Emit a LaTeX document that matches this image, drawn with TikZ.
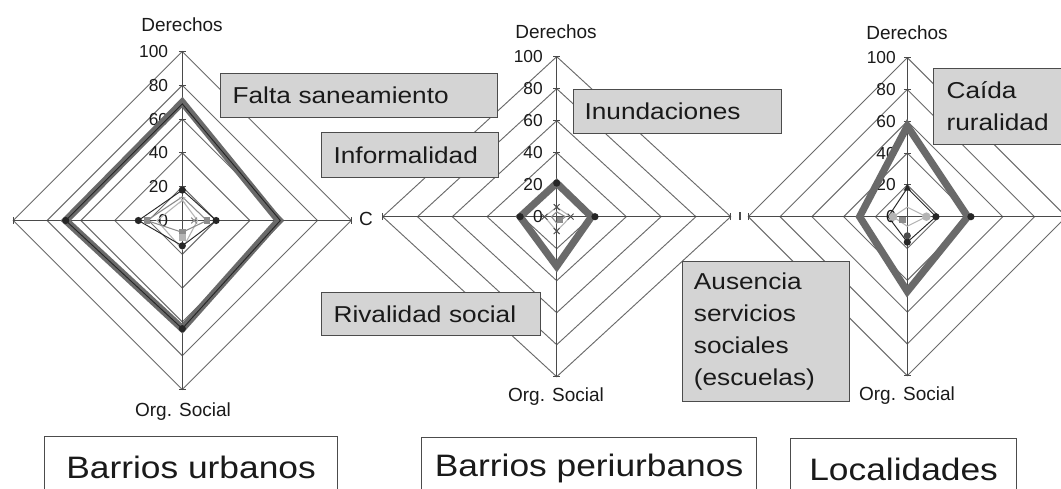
\documentclass[tikz,border=0pt]{standalone}
\usepackage{fontspec}
\setmainfont{Liberation Sans}[FakeStretch=1.14]
\newfontfamily\plainsans{Liberation Sans}
\definecolor{gridc}{HTML}{6A6A6A}
\definecolor{axisc}{HTML}{4A4A4A}
\definecolor{thickc}{HTML}{6A6A6A}
\definecolor{boxfill}{HTML}{D4D4D4}
\definecolor{boxline}{HTML}{4C4C4C}
\definecolor{txt}{HTML}{1A1A1A}
\definecolor{midser}{HTML}{8C8C8C}
\definecolor{lightser}{HTML}{B4B4B4}
\tikzset{
 gridline/.style={draw=gridc, line width=0.7pt},
 axisline/.style={draw=axisc, line width=0.85pt},
 thickser/.style={draw=thickc, line width=5.4pt, line join=miter},
 darkser/.style={draw=black!85, line width=0.7pt},
 midline/.style={draw=midser, line width=0.8pt},
 lightline/.style={draw=lightser, line width=0.8pt},
 numlbl/.style={font=\plainsans\fontsize{13pt}{14pt}\selectfont, text=txt, anchor=east, inner sep=0pt},
 axlbl/.style={font=\plainsans\fontsize{14.25pt}{15pt}\selectfont, text=txt, inner sep=0pt},
 notebox/.style={draw=boxline, fill=boxfill, line width=0.9pt, anchor=north west, align=left,
   inner xsep=9pt, inner ysep=0pt, text=txt, font=\fontsize{17.25pt}{24pt}\selectfont},
 titlebox/.style={draw=boxline, fill=white, line width=0.9pt, anchor=north west, align=center,
   inner sep=0pt, minimum height=46.5pt, text=txt, font=\fontsize{23.25pt}{26pt}\selectfont}
}
\newcommand\radargrid[2]{%
 \foreach \r in {20,40,60,80,100}{\draw[gridline] (0,\r)--(\r,0)--(0,-\r)--(-\r,0)--cycle;}
 \draw[axisline] (0,-100)--(0,100);
 \draw[axisline] (-100,0)--(100,0);
 \foreach \r in {0,20,40,60,80,100}{\draw[axisline] (0,\r) +(-2.6pt,0) -- +(2.6pt,0);
   \node[numlbl] (#1n\r) at ([xshift=-#2]0,\r) {\r};}
 \draw[axisline] (0,-100) +(-2.6pt,0) -- +(2.6pt,0);
 \draw[axisline] (-100,0) +(0,-2.6pt) -- +(0,2.6pt);
 \draw[axisline] (100,0) +(0,-2.6pt) -- +(0,2.6pt);
}
\newcommand\rdiamond[5]{\draw[#1] (0,#2)--(#3,0)--(0,-#4)--(-#5,0)--cycle;}
\newcommand\rkdot[2]{\fill[#1] #2 circle (2.7pt);}
\newcommand\rksq[2]{\fill[#1] #2 +(-2.4pt,-2.4pt) rectangle +(2.4pt,2.4pt);}
\newcommand\rkx[2]{\draw[#1, line width=0.7pt] #2 +(-2.2pt,-2.2pt) -- +(2.2pt,2.2pt) +(-2.2pt,2.2pt) -- +(2.2pt,-2.2pt);}
\newcommand\rktri[2]{\fill[#1] #2 +(0,3pt) -- +(-2.8pt,-2pt) -- +(2.8pt,-2pt) -- cycle;}
\begin{document}
\begin{tikzpicture}[x=0.75pt, y=-0.75pt]
\clip (0,0) rectangle (1061,489);
\fill[white] (0,0) rectangle (1061,489);

% ---------- chart 1 : Barrios urbanos
\begin{scope}[shift={(182.3,220.5)}, x=1.2675pt, y=1.2675pt]
 \radargrid{a}{10.5pt}
 \rdiamond{thickser}{70}{57}{64}{69}
 \rdiamond{darkser}{69}{58}{64}{69}
 \rkdot{black!85}{(-69,0)}
 \rkdot{black!85}{(0,-64)}
 \rdiamond{lightline}{12}{9}{17}{15}
 \rdiamond{midline}{14}{14.5}{7}{21}
 \rdiamond{darkser}{18}{20}{15}{26}
 \rkdot{black!85}{(0,18)}
 \rkdot{black!85}{(20,0)}
 \rkdot{black!85}{(0,-15)}
 \rkdot{black!85}{(-26,0)}
 \rksq{midser}{(14.5,0)}
 \rksq{midser}{(-21,0)}
 \rksq{midser}{(0,-7)}
 \rksq{lightser}{(0,-10)}
 \rkx{midser}{(7,0)}
 \rkx{lightser}{(0,12)}
\end{scope}

% ---------- chart 2 : Barrios periurbanos
\begin{scope}[shift={(556.7,216.7)}, x=1.305pt, y=1.2pt]
 \radargrid{b}{10.3pt}
 \rdiamond{thickser}{21}{20}{31}{21}
 \rkdot{black!85}{(0,21)}
 \rkdot{black!85}{(22,0)}
 \rkdot{black!85}{(-21,0)}
 \rdiamond{lightline}{6}{8}{9}{7}
 \rdiamond{midline}{3}{5}{4}{3}
 \rkx{black!70}{(0,6)}
 \rkx{black!70}{(8,0)}
 \rkx{black!70}{(0,-9)}
 \rkx{black!70}{(-7,0)}
 \rksq{midser}{(2,-2)}
\end{scope}

% ---------- chart 3 : Localidades
\begin{scope}[shift={(907.3,216.7)}, x=1.1925pt, y=1.1925pt]
 \radargrid{c}{8.5pt}
 \rdiamond{thickser}{57}{38}{47}{30}
 \rkdot{black!85}{(40,0)}
 \rdiamond{lightline}{6}{12}{6}{9}
 \rdiamond{darkser}{18}{18}{16}{12}
 \rktri{black!85}{(0,18)}
 \rkdot{black!85}{(18,0)}
 \rkdot{black!85}{(0,-16)}
 \rkdot{black!70}{(0,-12)}
 \fill[lightser] (12,0) circle (3.2pt);
 \fill[lightser] (-9,0) circle (3.2pt);
 \rksq{midser}{(-3,-2)}
\end{scope}

% fragments between charts
\node[axlbl] (frag1) at (366,219) {C};
\draw[axisline] (740,212) -- (740,220);

% axis titles
\node[axlbl] (d1) at (182,25) {Derechos};
\node[axlbl] (o1) at (183,412) {Org. Social};
\node[axlbl] (d2) at (556,32) {Derechos};
\node[axlbl] (o2) at (556,397) {Org. Social};
\node[axlbl] (d3) at (907,33) {Derechos};
\node[axlbl] (o3) at (907,396) {Org. Social};

% annotation boxes
\node[notebox, text width=189.75pt, minimum height=33pt] (b1) at (220,73) {Falta saneamiento};
\node[notebox, text width=114.75pt, minimum height=33.75pt] (b2) at (321,132) {Informalidad};
\node[notebox, text width=139.5pt, minimum height=33pt, inner xsep=8.25pt] (b3) at (573,89) {Inundaciones};
\node[notebox, text width=146.25pt, minimum height=32.25pt] (b4) at (321,292) {Rivalidad social};
\node[notebox, text width=108pt, minimum height=105pt, inner xsep=8.5pt] (b5) at (682,261) {Ausencia\\servicios\\sociales\\(escuelas)};
\node[notebox, text width=94.5pt, minimum height=57pt, inner xsep=9.75pt] (b6) at (933,68) {Caída\\ruralidad};

% title boxes
\node[titlebox, minimum width=219.75pt] (t1) at (44,436) {Barrios urbanos};
\node[titlebox, minimum width=251.25pt] (t2) at (421,437) {Barrios periurbanos};
\node[titlebox, minimum width=169.5pt] (t3) at (790,438) {Localidades};
\end{tikzpicture}
\end{document}
